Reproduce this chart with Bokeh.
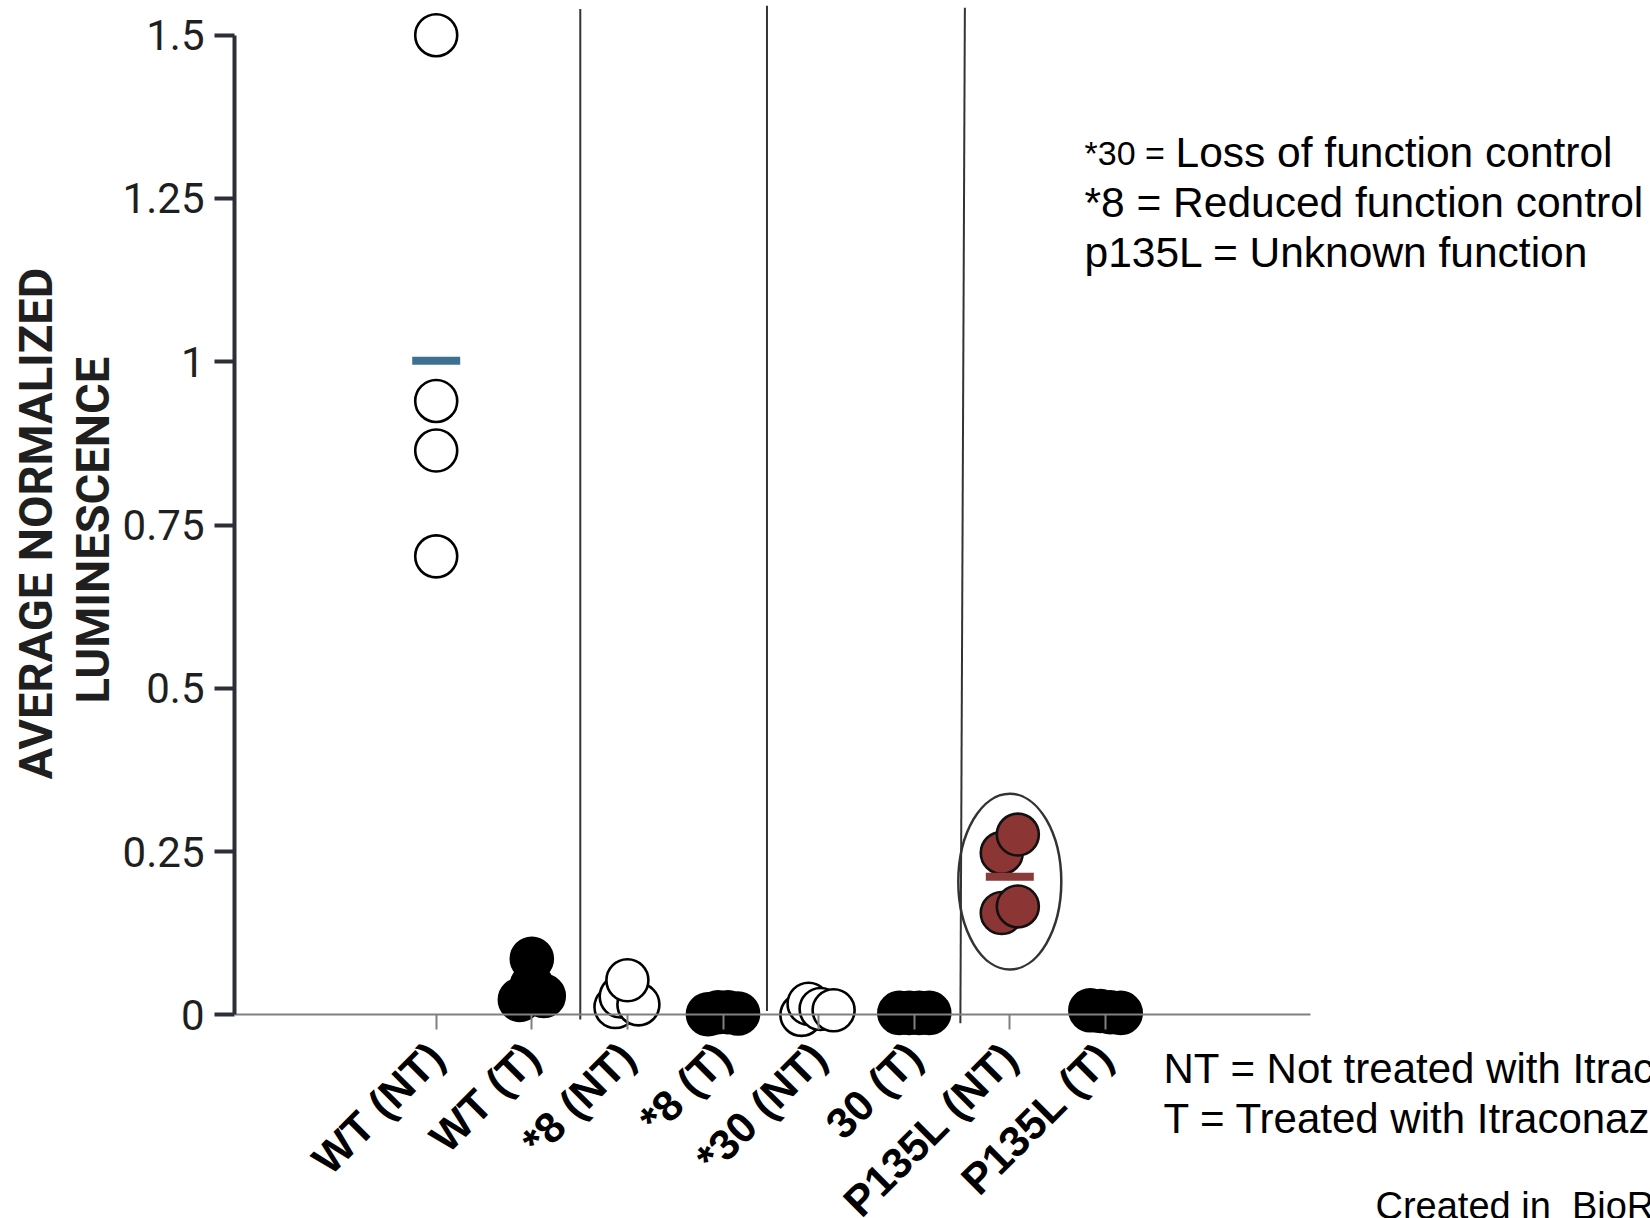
import math
from bokeh.plotting import figure
from bokeh.models import FixedTicker, Label, Title
from bokeh.embed import file_html
from bokeh.resources import INLINE

# ---------------- data ----------------
categories = ["WT (NT)", "WT (T)", "*8 (NT)", "*8 (T)", "*30 (NT)", "30 (T)", "P135L (NT)", "P135L (T)"]
cat_pos = [1, 2, 3, 4, 5, 6, 7, 8]

# not treated (open circles)
wt_nt = [1.5, 0.94, 0.864, 0.702]
wt_nt_jit = [0.0, 0.0, 0.0, 0.0]
s8_nt = [0.012, 0.028, 0.016, 0.053]
s8_nt_jit = [-0.125, -0.07, 0.115, 0.0]
s30_nt = [0.0, 0.017, 0.009, 0.007]
s30_nt_jit = [-0.18, -0.105, 0.021, 0.157]

# treated (black circles)
wt_t = [0.045, 0.023, 0.029, 0.086]
wt_t_jit = [0.0, -0.125, 0.125, 0.0]
s8_t = [0.001, 0.004, 0.004, 0.002]
s8_t_jit = [-0.157, -0.052, 0.052, 0.157]
s30_t = [0.003, 0.003, 0.003, 0.003]
s30_t_jit = [-0.155, -0.052, 0.052, 0.157]
p135l_t = [0.007, 0.006, 0.004, 0.003]
p135l_t_jit = [-0.157, -0.052, 0.052, 0.16]

# P135L not treated (red circles)
p135l_nt = [0.248, 0.276, 0.156, 0.166]
p135l_nt_jit = [-0.084, 0.084, -0.084, 0.084]

# group separators (drawn lines)
sep_x_top = [2.507, 4.46, 6.53]
sep_x_bottom = [2.507, 4.46, 6.483]
sep_y_top = [1.54, 1.545, 1.542]
sep_y_bottom = [-0.007, 0.006, -0.013]

# highlight ellipse around P135L (NT)
hl_x = [7]
hl_y = [0.204]

y_ticks = [0, 0.25, 0.5, 0.75, 1, 1.25, 1.5]
y_tick_labels = ["0", "0.25", "0.5", "0.75", "1", "1.25", "1.5"]

# ---------------- layout ----------------
W, H = 1650, 1218
ML = 234
FW, FH = W - ML, H
XR = (-1.110, 13.702)
YR = (-0.3118, 1.5531)
X_AXIS_END = 10.145


def px2x(px):
    return XR[0] + (px - ML) * (XR[1] - XR[0]) / FW


def py2y(py):
    return YR[1] - py * (YR[1] - YR[0]) / FH


p = figure(width=W, height=H, x_range=XR, y_range=YR,
           output_backend="svg", toolbar_location=None,
           min_border_left=ML, min_border_right=0,
           min_border_top=0, min_border_bottom=0)
p.outline_line_color = None
p.grid.visible = False
p.background_fill_color = "white"
p.border_fill_color = "white"

# separators
p.segment(x0=sep_x_top, y0=sep_y_top, x1=sep_x_bottom, y1=sep_y_bottom,
          line_color="#333333", line_width=2)


def pts(cat, vals, jit):
    return [cat + j for j in jit], vals


OPEN = dict(marker="circle", size=42, fill_color="white", line_color="black", line_width=2.6)
BLACK = dict(marker="circle", size=42, fill_color="black", line_color="black", line_width=2.6)
RED = dict(marker="circle", size=42, fill_color="#8b3535", line_color="#111111", line_width=2.6)

for cat, vals, jit in [(1, wt_nt, wt_nt_jit), (3, s8_nt, s8_nt_jit), (5, s30_nt, s30_nt_jit)]:
    xs, ys = pts(cat, vals, jit)
    p.scatter(xs, ys, **OPEN)

for cat, vals, jit in [(2, wt_t, wt_t_jit), (4, s8_t, s8_t_jit), (6, s30_t, s30_t_jit), (8, p135l_t, p135l_t_jit)]:
    xs, ys = pts(cat, vals, jit)
    p.scatter(xs, ys, **BLACK)

xs, ys = pts(7, p135l_nt, p135l_nt_jit)
p.scatter(xs, ys, **RED)

# mean bars
p.rect(x=[1], y=[sum(wt_nt) / len(wt_nt)], width=48, height=8,
       width_units="screen", height_units="screen", fill_color="#3e7091", line_color=None)
p.rect(x=[7], y=[sum(p135l_nt) / len(p135l_nt)], width=48, height=8,
       width_units="screen", height_units="screen", fill_color="#8b3a3a", line_color=None)

# highlight ellipse
p.ellipse(x=hl_x, y=hl_y, width=103, height=176, width_units="screen", height_units="screen",
          fill_color=None, line_color="#333333", line_width=2.5)

# ---------------- axes ----------------
xa = p.xaxis[0]
xa.ticker = FixedTicker(ticks=cat_pos)
xa.major_label_overrides = {c: lab for c, lab in zip(cat_pos, categories)}
xa.fixed_location = 0
xa.bounds = (XR[0], X_AXIS_END)
xa.axis_line_color = "#808080"
xa.axis_line_width = 2
xa.major_tick_line_color = "#808080"
xa.major_tick_line_width = 2
xa.major_tick_in = 0
xa.major_tick_out = 15
xa.minor_tick_line_color = None
xa.major_label_orientation = math.pi / 4
xa.major_label_text_font = "Liberation Sans"
xa.major_label_text_font_size = "43px"
xa.major_label_text_font_style = "bold"
xa.major_label_text_color = "black"
xa.major_label_standoff = 20

ya = p.yaxis[0]
ya.ticker = FixedTicker(ticks=y_ticks)
ya.major_label_overrides = {t: lab for t, lab in zip(y_ticks, y_tick_labels)}
ya.bounds = (0, 1.5)
ya.axis_line_color = "#2b2f38"
ya.axis_line_width = 4
ya.major_tick_line_color = "#2b2f38"
ya.major_tick_line_width = 4
ya.major_tick_in = 0
ya.major_tick_out = 20
ya.minor_tick_line_color = None
ya.major_label_text_font = "Roboto"
ya.major_label_text_font_size = "42px"
ya.major_label_text_color = "#1f1f1f"
ya.major_label_standoff = 10

# y-axis title (two lines), placed in the left panel, positioned along the 0..1.5 span
TITLE_STYLE = dict(align="left", standoff=0, text_font="Roboto", text_font_size="47px",
                   text_font_style="bold", text_color="#1f1f1f")
p.add_layout(Title(text="LUMINESCENCE", offset=515, **TITLE_STYLE), "left")
p.add_layout(Title(text="AVERAGE NORMALIZED", offset=439, **TITLE_STYLE), "left")

# ---------------- annotation texts ----------------
FONT = "Liberation Sans"


def add_label(px, py, text, size):
    p.add_layout(Label(x=px2x(px), y=py2y(py), text=text, text_font=FONT,
                       text_font_size=size, text_color="black",
                       text_align="left", text_baseline="alphabetic"))


add_label(1084, 152, "*30 =", "34px")
add_label(1175, 152, "Loss of function control", "42.5px")
add_label(1084, 202, "*8 = Reduced function control", "42.5px")
add_label(1084, 252, "p135L = Unknown function", "42.5px")
add_label(1163, 1068, "NT = Not treated with Itraconazole", "42px")
add_label(1163, 1118, "T = Treated with Itraconazole", "42px")
add_label(1375, 1205, "Created in\u00a0 BioRender", "38px")

open("out.html", "w").write(file_html(p, INLINE))
